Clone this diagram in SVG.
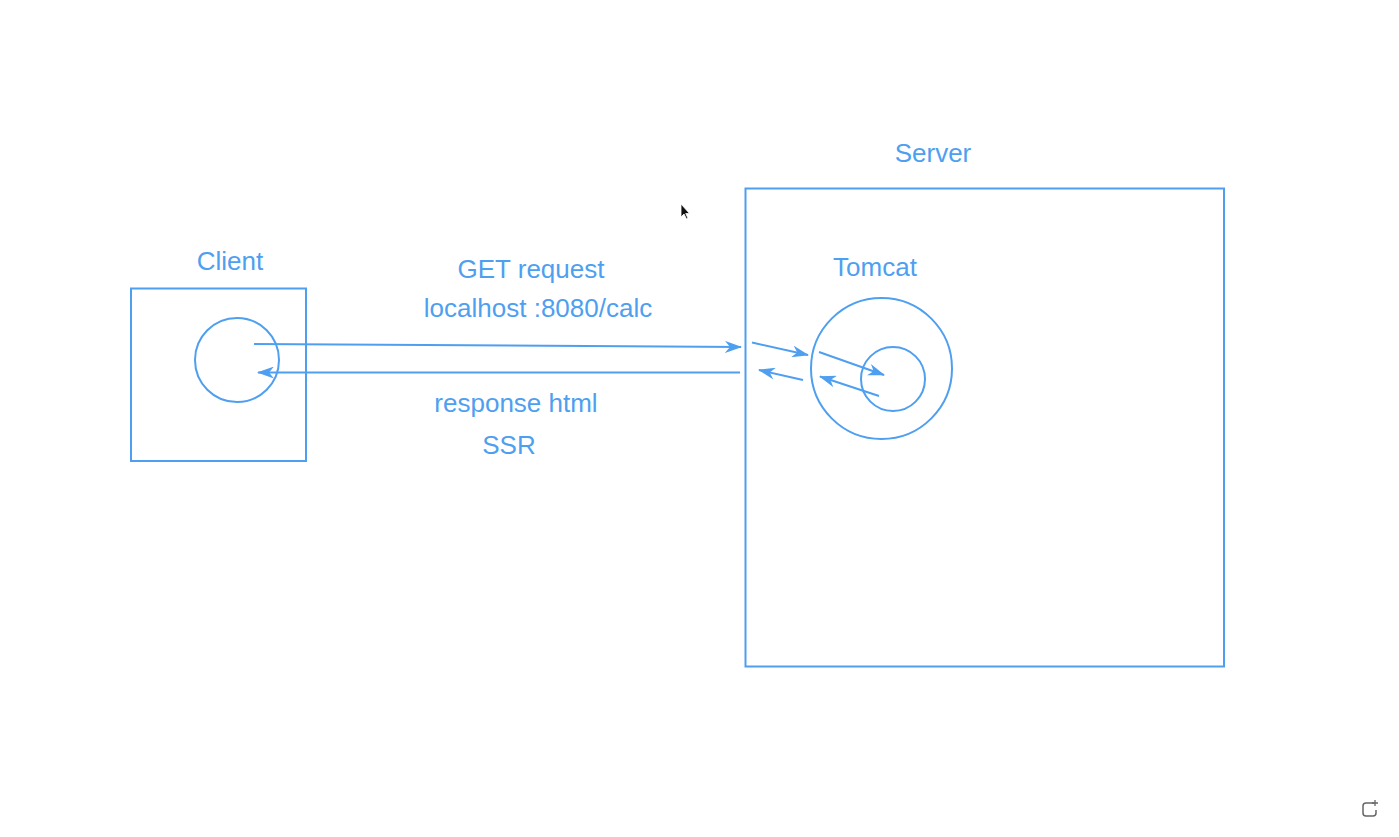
<svg xmlns="http://www.w3.org/2000/svg" width="1399" height="837" viewBox="0 0 1399 837">
<style>
.s{fill:none;stroke:#4f9ff0;stroke-width:2}
.t{font-family:"Liberation Sans",Arial,sans-serif;font-size:26px;fill:#4f9ff0;text-anchor:middle}
.c{fill:none;stroke:#4f9ff0;stroke-width:2}
</style>
<defs>
<marker id="ah" markerWidth="18" markerHeight="12" refX="16" refY="6" orient="auto" markerUnits="userSpaceOnUse">
<path d="M0,0 L17,6 L0,12 L5,6 z" fill="#4f9ff0"/>
</marker>
</defs>
<rect width="1399" height="837" fill="#ffffff"/>
<g id="client">
<rect class="s" x="131" y="288.5" width="175" height="172.5"/>
<circle class="s" cx="237" cy="360" r="42"/>
<text class="t" x="230" y="270">Client</text>
</g>
<g id="server">
<rect class="s" x="745.5" y="188.5" width="478.5" height="478"/>
<text class="t" x="933" y="162">Server</text>
</g>
<g id="tomcat">
<circle class="s" cx="881.5" cy="368.5" r="70.5"/>
<text class="t" x="875" y="276">Tomcat</text>
</g>
<g id="servlet">
<circle class="s" cx="893" cy="379" r="32"/>
</g>
<g id="labels">
<text class="t" x="531" y="278">GET request</text>
<text class="t" x="538" y="317">localhost :8080/calc</text>
<text class="t" x="516" y="412">response html</text>
<text class="t" x="509" y="454">SSR</text>
</g>
<g id="connectors">
<line class="c" x1="254" y1="344" x2="741" y2="347" marker-end="url(#ah)"/>
<line class="c" x1="740" y1="372.5" x2="258" y2="372.5" marker-end="url(#ah)"/>
<line class="c" x1="752" y1="342.5" x2="808" y2="355" marker-end="url(#ah)"/>
<line class="c" x1="803" y1="380" x2="759" y2="370" marker-end="url(#ah)"/>
<line class="c" x1="819" y1="352" x2="884" y2="375" marker-end="url(#ah)"/>
<line class="c" x1="879" y1="396" x2="820" y2="376.5" marker-end="url(#ah)"/>
</g>
<g id="cursor">
<path d="M681,204 L681,217 L684,214 L686.5,219 L688,218.3 L685.7,213.5 L689.5,213.5 z" fill="#111" stroke="#fff" stroke-width="0.8"/>
</g>
<g id="corner-icon">
<path d="M1374,803 L1366,803 Q1363,803 1363,806 L1363,813 Q1363,816 1366,816 L1373,816 Q1376,816 1376,813 L1376,810" fill="none" stroke="#666" stroke-width="1.5"/>
<path d="M1375,800 L1375,806 M1372,803 L1378,803" stroke="#666" stroke-width="1.3"/>
</g>
</svg>
